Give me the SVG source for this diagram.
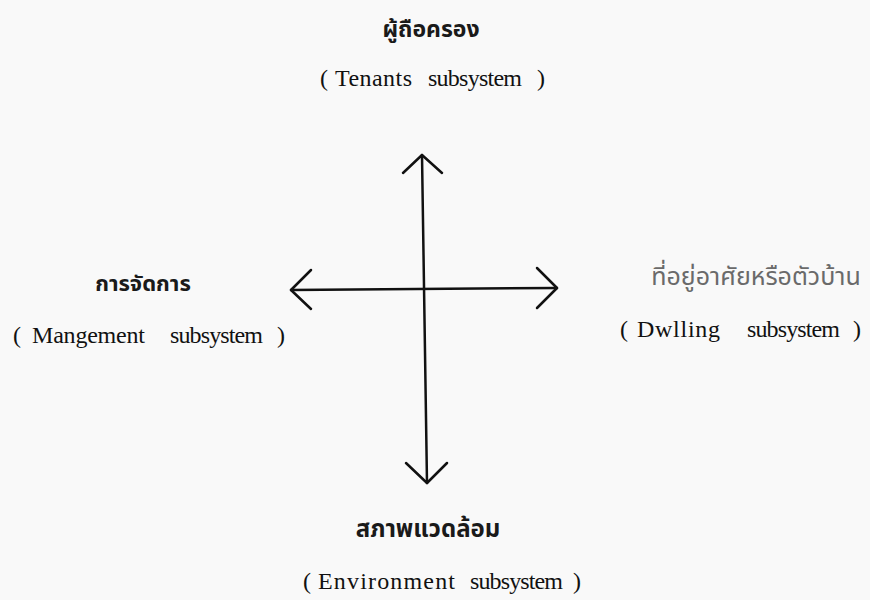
<svg xmlns="http://www.w3.org/2000/svg" width="870" height="600" viewBox="0 0 870 600">
<style>
.th{font-family:"Noto Sans Thai","Noto Sans","DejaVu Sans",sans-serif;fill:#1a1a1a;text-anchor:middle;font-weight:bold}
.en{font-family:"Liberation Serif",serif;font-size:24px;fill:#111}
.ln{stroke:#111;stroke-width:2.5;fill:none;stroke-linecap:round;stroke-linejoin:round}
</style>
<rect width="870" height="600" fill="#f9f9f9"/>
<g id="tenants">
<text class="th" x="431" y="37" font-size="23">ผู้ถือครอง</text>
<text class="en" y="86"><tspan x="320">(</tspan><tspan x="335" textLength="77">Tenants</tspan><tspan x="428" textLength="94">subsystem</tspan><tspan x="537">)</tspan></text>
</g>
<g id="management">
<text class="th" x="143" y="291" font-size="22">การจัดการ</text>
<text class="en" y="343"><tspan x="13">(</tspan><tspan x="32" textLength="113">Mangement</tspan><tspan x="170" textLength="93">subsystem</tspan><tspan x="277">)</tspan></text>
</g>
<g id="dwelling">
<text class="th" x="756" y="285" font-size="25" style="fill:#6a6a6a;font-weight:normal">ที่อยู่อาศัยหรือตัวบ้าน</text>
<text class="en" y="337"><tspan x="620">(</tspan><tspan x="637" textLength="83">Dwlling</tspan><tspan x="747" textLength="93">subsystem</tspan><tspan x="853">)</tspan></text>
</g>
<g id="environment">
<text class="th" x="428" y="537" font-size="24">สภาพแวดล้อม</text>
<text class="en" y="589"><tspan x="303">(</tspan><tspan x="318" textLength="137">Environment</tspan><tspan x="470" textLength="93">subsystem</tspan><tspan x="573">)</tspan></text>
</g>
<g id="connectors">
<path class="ln" d="M422,155 L427,483"/>
<path class="ln" d="M291,290 L557,288"/>
<path class="ln" d="M403,173 L422,155 L442,173"/>
<path class="ln" d="M406,463 L427,483 L447,463"/>
<path class="ln" d="M311,270 L291,290 L311,309"/>
<path class="ln" d="M537,268 L557,288 L537,308"/>
</g>
</svg>
